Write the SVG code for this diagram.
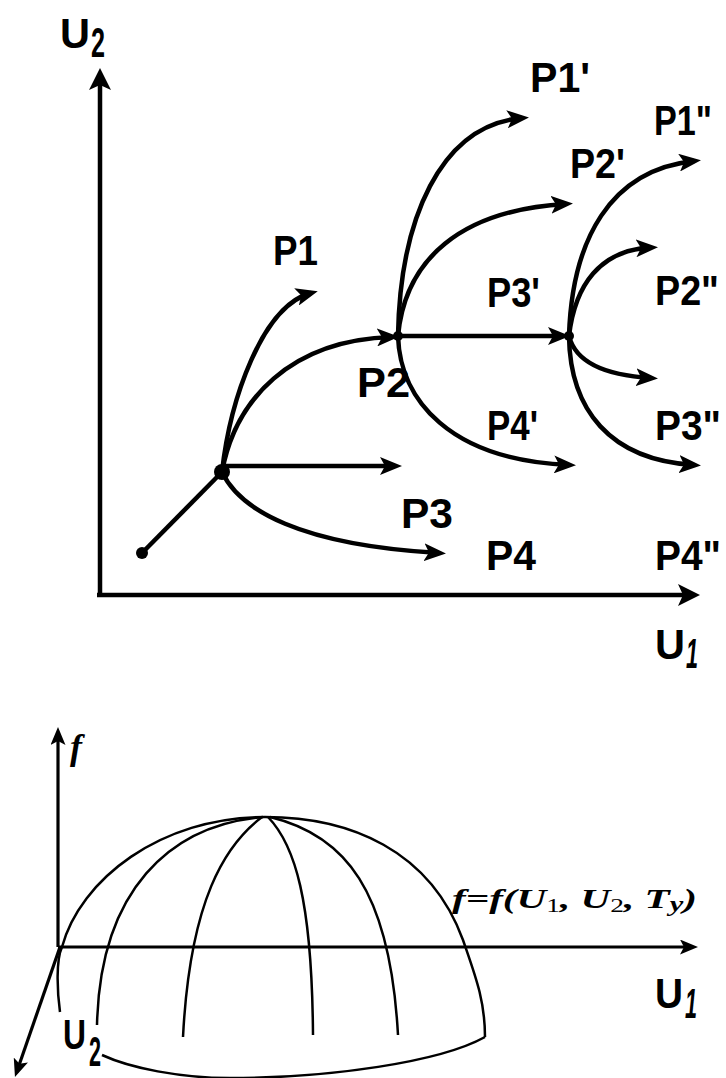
<svg xmlns="http://www.w3.org/2000/svg" width="726" height="1078" viewBox="0 0 726 1078">
<style>
.lbl{font-family:"Liberation Sans",Arial,sans-serif;font-weight:bold;font-size:43px;fill:#000}
.thick{fill:none;stroke:#000;stroke-width:4.5}
.axis{fill:none;stroke:#000;stroke-width:4.5}
.thin{fill:none;stroke:#000;stroke-width:2.5}
.axs{fill:none;stroke:#000;stroke-width:3.2}
.fx{font-family:"Liberation Serif","Times New Roman",serif;font-style:italic;font-weight:bold;fill:#000}
</style>
<defs>
<marker id="ah" markerUnits="userSpaceOnUse" markerWidth="22" markerHeight="18" refX="15" refY="9" orient="auto"><path d="M0,0 L22,9 L0,18 L5,9 z" fill="#000"/></marker>
<marker id="ahAx" markerUnits="userSpaceOnUse" markerWidth="22" markerHeight="22" refX="16" refY="11" orient="auto"><path d="M0,0 L22,11 L0,22 L5,11 z" fill="#000"/></marker>
<marker id="ahS" markerUnits="userSpaceOnUse" markerWidth="18" markerHeight="15" refX="13" refY="7.5" orient="auto"><path d="M0,0 L18,7.5 L0,15 L4,7.5 z" fill="#000"/></marker>
</defs>
<rect width="726" height="1078" fill="#fff"/>

<g id="top-axes">
<path class="axis" d="M100,597 V74" marker-end="url(#ahAx)"/>
<path class="axis" d="M97,595 H694" marker-end="url(#ahAx)"/>
<text class="lbl" x="60" y="48" font-size="46" textLength="30" lengthAdjust="spacingAndGlyphs">U</text>
<text class="lbl" x="91" y="57" font-size="26" textLength="14" lengthAdjust="spacingAndGlyphs">2</text>
<text class="lbl" x="655" y="659" font-size="46" textLength="30" lengthAdjust="spacingAndGlyphs">U</text>
<text class="lbl" x="686" y="668" font-size="26" font-style="italic" textLength="12" lengthAdjust="spacingAndGlyphs">1</text>
</g>

<g id="connectors">
<path class="thick" d="M142,553 L222,472"/>
<path class="thick" d="M222,472 C230,400 262,306 311,293" marker-end="url(#ah)"/>
<path class="thick" d="M222,472 C235,400 290,340 392,337" marker-end="url(#ah)"/>
<path class="thick" d="M222,466 H395" marker-end="url(#ah)"/>
<path class="thick" d="M222,472 C240,510 300,545 439,553" marker-end="url(#ah)"/>
<path class="thick" d="M398,336 C400,220 440,125 522,118" marker-end="url(#ah)"/>
<path class="thick" d="M398,336 C405,260 460,210 566,204" marker-end="url(#ah)"/>
<path class="thick" d="M398,336 H563" marker-end="url(#ah)"/>
<path class="thick" d="M398,336 C400,400 450,460 569,465" marker-end="url(#ah)"/>
<path class="thick" d="M569,336 C572,240 610,170 694,161" marker-end="url(#ah)"/>
<path class="thick" d="M569,336 C575,285 600,250 651,247.5" marker-end="url(#ah)"/>
<path class="thick" d="M569,336 C575,360 600,375 651,378" marker-end="url(#ah)"/>
<path class="thick" d="M569,336 C570,410 610,460 694,465" marker-end="url(#ah)"/>
</g>

<g id="node-start"><circle cx="142" cy="553" r="6"/></g>
<g id="node-B"><circle cx="222" cy="472" r="8"/></g>
<g id="node-P2"><circle cx="398" cy="336" r="5"/></g>
<g id="node-P3"><circle cx="569" cy="336" r="5"/></g>

<g id="labels">
<text class="lbl" x="273" y="265" textLength="45" lengthAdjust="spacingAndGlyphs">P1</text>
<text class="lbl" x="357" y="397" textLength="53" lengthAdjust="spacingAndGlyphs">P2</text>
<text class="lbl" x="401" y="528" textLength="52" lengthAdjust="spacingAndGlyphs">P3</text>
<text class="lbl" x="486" y="570" textLength="50" lengthAdjust="spacingAndGlyphs">P4</text>
<text class="lbl" x="530" y="92" textLength="60" lengthAdjust="spacingAndGlyphs">P1'</text>
<text class="lbl" x="570" y="178" textLength="55" lengthAdjust="spacingAndGlyphs">P2'</text>
<text class="lbl" x="487" y="307" textLength="53" lengthAdjust="spacingAndGlyphs">P3'</text>
<text class="lbl" x="487" y="440" textLength="51" lengthAdjust="spacingAndGlyphs">P4'</text>
<text class="lbl" x="654" y="135" textLength="58" lengthAdjust="spacingAndGlyphs">P1"</text>
<text class="lbl" x="655" y="305" textLength="64" lengthAdjust="spacingAndGlyphs">P2"</text>
<text class="lbl" x="655" y="440" textLength="66" lengthAdjust="spacingAndGlyphs">P3"</text>
<text class="lbl" x="655" y="570" textLength="66" lengthAdjust="spacingAndGlyphs">P4"</text>
</g>

<g id="bottom-axes">
<path class="axs" d="M58,947 V732" marker-end="url(#ahS)"/>
<path class="axs" d="M58,947 H693" marker-end="url(#ahS)"/>
<path class="axs" d="M60,947 L16.6,1072.3" marker-end="url(#ahS)"/>
<text class="fx" x="70" y="759" font-size="36">f</text>
<text class="lbl" x="655" y="1008" font-size="46" textLength="28" lengthAdjust="spacingAndGlyphs">U</text>
<text class="lbl" x="685" y="1018" font-size="26" font-style="italic" textLength="12" lengthAdjust="spacingAndGlyphs">1</text>
<text class="lbl" x="63" y="1049" font-size="38" textLength="23" lengthAdjust="spacingAndGlyphs">U</text>
<text class="lbl" x="89" y="1066" font-size="20" textLength="12" lengthAdjust="spacingAndGlyphs">2</text>
</g>

<g id="dome">
<path class="thin" d="M60,1012 C57,990 56,960 62,947 C80,880 160,817 265,817 C350,817 430,850 463,940 C475,975 485,1000 485,1037"/>
<path class="thin" d="M485,1037 C440,1062 330,1078 230,1078 C180,1078 130,1068 102,1055"/>
<path class="thin" d="M263,817 C170,825 100,890 97,1025"/>
<path class="thin" d="M262,817 C225,845 190,900 183,1037"/>
<path class="thin" d="M268,817 C295,845 312,900 313,1035"/>
<path class="thin" d="M270,817 C345,835 390,890 398,1035"/>
</g>

<g id="formula">
<text class="fx" x="452" y="908" font-size="27" textLength="245" lengthAdjust="spacingAndGlyphs">f=f(U<tspan font-size="18" font-style="normal" font-weight="normal" dy="4">1</tspan><tspan dy="-4">, U</tspan><tspan font-size="18" font-style="normal" font-weight="normal" dy="4">2</tspan><tspan dy="-4">, T</tspan><tspan font-size="20" dy="3">y</tspan><tspan dy="-3">)</tspan></text>
</g>
</svg>
